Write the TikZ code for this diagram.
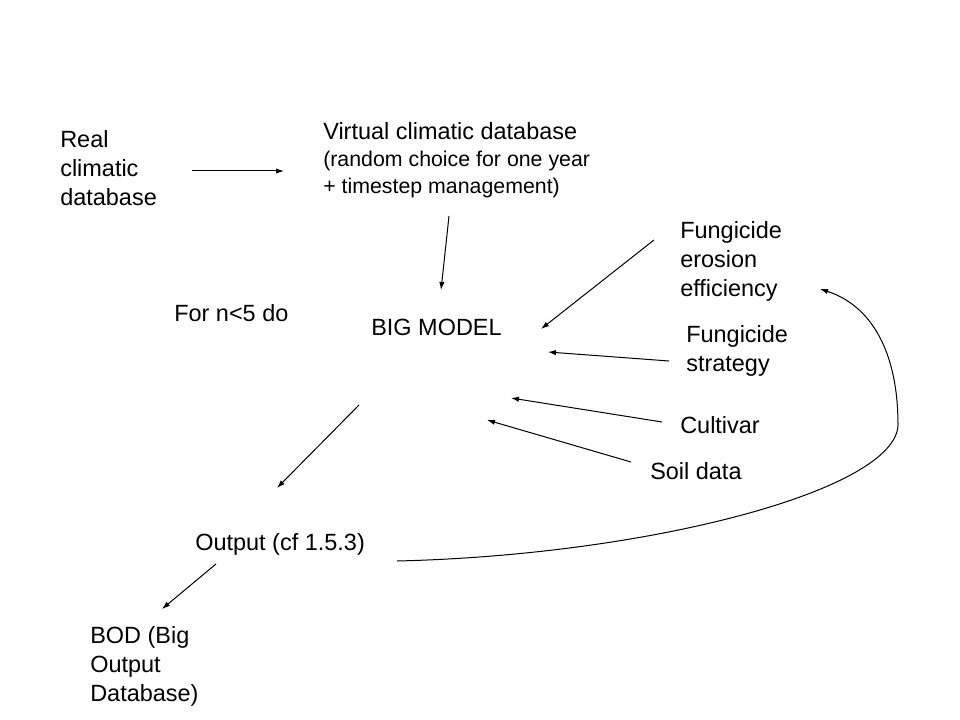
\documentclass[tikz,border=0pt]{standalone}
\usepackage{fontspec}
\setmainfont{Liberation Sans}
\usetikzlibrary{arrows.meta}
\newcommand{\bigfnt}{\fontsize{17.6}{21.75}\selectfont}
\newcommand{\smlfnt}{\fontsize{16}{20.25}\selectfont}
\tikzset{
	txt/.style={anchor=north west,inner sep=0pt,align=left,font=\bigfnt},
	stxt/.style={anchor=north west,inner sep=0pt,align=left,font=\smlfnt},
	arr/.style={line width=0.75pt,-{Latex[length=6pt,width=4pt]}}
}
\begin{document}
\begin{tikzpicture}[x=0.75pt,y=-0.75pt]
	\useasboundingbox[fill=white] (0,0) rectangle (960,720);

	\node [txt,name=real] at (60,130) {Real\\climatic\\database};
	\node [stxt,name=virt] at (323,122) {{\bigfnt Virtual climatic database}\\(random choice for one year\\+ timestep management)};
	\node [txt,name=loop] at (174,304) {For n<5 do};
	\node [txt,name=model] at (371,319) {BIG MODEL};
	\node [txt,name=eros] at (680,221) {Fungicide\\erosion\\efficiency};
	\node [txt,name=strat] at (686,325) {Fungicide\\strategy};
	\node [txt,name=cult] at (680,416) {Cultivar};
	\node [txt,name=soil] at (650,462) {Soil data};
	\node [txt,name=out] at (195,533) {Output (cf 1.5.3)};
	\node [txt,name=bod] at (90,626) {BOD (Big\\Output\\Database)};

	% arrow ends
	\coordinate (r1) at (192,171);
	\coordinate (v1) at (284,171);
	\coordinate (v2) at (449,216);
	\coordinate (m1) at (441,290);
	\coordinate (e1) at (654,240);
	\coordinate (m2) at (541,329);
	\coordinate (s1) at (669,361);
	\coordinate (m3) at (548,352);
	\coordinate (c1) at (662,422);
	\coordinate (m4) at (511,398);
	\coordinate (d1) at (631,462);
	\coordinate (m5) at (487,420);
	\coordinate (m6) at (359,405);
	\coordinate (o1) at (277,488);
	\coordinate (o2) at (397,561);
	\coordinate (t1) at (898,425);
	\coordinate (e2) at (820,289);
	\coordinate (o3) at (216,564);
	\coordinate (b1) at (162,609);

	\draw [arr] (r1) -- (v1);
	\draw [arr] (v2) -- (m1);
	\draw [arr] (e1) -- (m2);
	\draw [arr] (s1) -- (m3);
	\draw [arr] (c1) -- (m4);
	\draw [arr] (d1) -- (m5);
	\draw [arr] (m6) -- (o1);
	\draw [arr] (o3) -- (b1);
	\draw [arr] (o2) .. controls (650,555) and (896,490) .. (t1) .. controls (898,350) and (870,305) .. (e2);
\end{tikzpicture}
\end{document}
